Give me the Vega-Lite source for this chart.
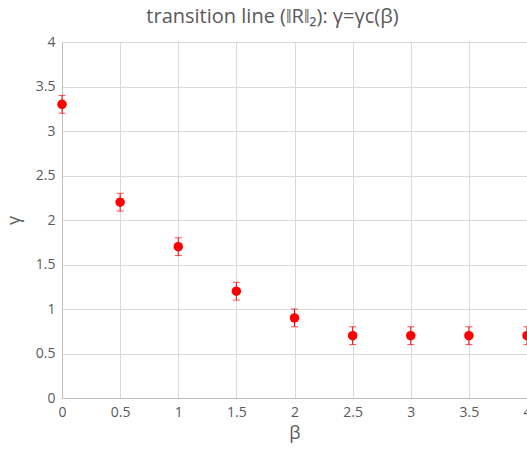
{
  "$schema": "https://vega.github.io/schema/vega-lite/v6.json",
  "autosize": {"type": "none"},
  "padding": {"left": 62, "top": 42, "right": 0, "bottom": 55},
  "width": 465,
  "height": 356,
  "background": "white",
  "title": {
    "text": "transition line (‖R‖₂): γ=γc(β)",
    "font": "Open Sans",
    "fontSize": 20,
    "fontWeight": "normal",
    "color": "#595959",
    "anchor": "middle",
    "dx": -22,
    "offset": 8
  },
  "data": {
    "values": [
      {"beta": 0, "gamma": 3.3, "err": 0.1},
      {"beta": 0.5, "gamma": 2.2, "err": 0.1},
      {"beta": 1, "gamma": 1.7, "err": 0.1},
      {"beta": 1.5, "gamma": 1.2, "err": 0.1},
      {"beta": 2, "gamma": 0.9, "err": 0.1},
      {"beta": 2.5, "gamma": 0.7, "err": 0.1},
      {"beta": 3, "gamma": 0.7, "err": 0.1},
      {"beta": 3.5, "gamma": 0.7, "err": 0.1},
      {"beta": 4, "gamma": 0.7, "err": 0.1}
    ]
  },
  "encoding": {
    "x": {
      "field": "beta", "type": "quantitative",
      "scale": {"domain": [0, 4], "nice": false},
      "axis": {"title": "β", "values": [0, 0.5, 1, 1.5, 2, 2.5, 3, 3.5, 4], "format": "~g"}
    },
    "y": {
      "field": "gamma", "type": "quantitative",
      "scale": {"domain": [0, 4], "nice": false},
      "axis": {"title": "γ", "values": [0, 0.5, 1, 1.5, 2, 2.5, 3, 3.5, 4], "format": "~g"}
    }
  },
  "layer": [
    {
      "mark": {"type": "errorbar", "ticks": {"size": 7, "color": "#ff0000", "thickness": 1}, "color": "#ff0000", "thickness": 1},
      "encoding": {
        "yError": {"field": "err"}
      }
    },
    {
      "mark": {"type": "point", "filled": true, "color": "#ff0000", "size": 90, "opacity": 1, "clip": false}
    }
  ],
  "config": {
    "view": {"stroke": null},
    "axis": {
      "labelFont": "Open Sans",
      "labelFontSize": 14,
      "labelColor": "#595959",
      "titleFont": "Open Sans",
      "titleFontSize": 18,
      "titleFontWeight": "normal",
      "titleColor": "#595959",
      "gridColor": "#d9d9d9",
      "domainColor": "#bfbfbf",
      "ticks": false,
      "labelPadding": 7
    },
    "axisX": {"titlePadding": 5, "labelFlush": false},
    "axisY": {"titlePadding": 12, "labelFlush": false}
  }
}
